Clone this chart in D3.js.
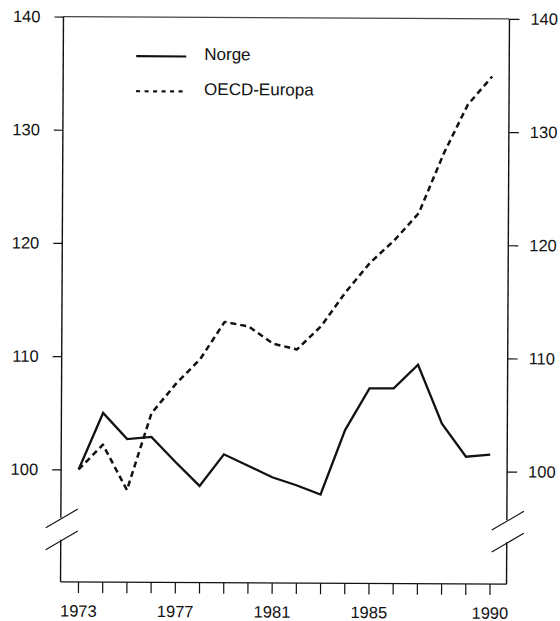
<!DOCTYPE html>
<html><head><meta charset="utf-8">
<script src="https://cdn.jsdelivr.net/npm/d3@7"></script>
<style>
html,body{margin:0;padding:0;background:#fff;}
svg text{font-family:"Liberation Sans",Arial,Helvetica,sans-serif;fill:#111;}
</style></head>
<body>
<svg id="c" width="560" height="621"></svg>
<script>
const years = [1973,1974,1975,1976,1977,1978,1979,1980,1981,1982,1983,1984,1985,1986,1987,1988,1989,1990];
const norge = [100,105.0,102.7,102.9,100.7,98.6,101.4,100.4,99.4,98.7,97.9,103.6,107.3,107.3,109.4,104.2,101.3,101.5];
const oecd  = [100,102.2,98.2,105.0,107.6,109.8,113.1,112.7,111.2,110.7,112.8,115.8,118.4,120.4,122.8,128.0,132.4,134.9];
const yTicks = [100,110,120,130,140];
const xLabels = [1973,1977,1981,1985,1990];
const seriesNames = ["Norge","OECD-Europa"];

const svg = d3.select("#c");
const g = svg.append("g").attr("transform","rotate(0.3,285,300)");

const L = 62, R = 508, T = 17.7, B = 583;
const x = d3.scaleLinear().domain([1973,1990]).range([79.5,491]);
const y = d3.scaleLinear().domain([100,140]).range([470.5,17.7]);

const ink = "#111";
g.append("line").attr("x1",L).attr("x2",R).attr("y1",T).attr("y2",T)
 .attr("stroke","#444").attr("stroke-width",1.2);

const brkTop = 519, brkBot = 541;
[L,R].forEach(ax=>{
  g.append("line").attr("x1",ax).attr("x2",ax).attr("y1",T).attr("y2",brkTop).attr("stroke",ink).attr("stroke-width",1.4);
  g.append("line").attr("x1",ax).attr("x2",ax).attr("y1",brkBot).attr("y2",B).attr("stroke",ink).attr("stroke-width",1.4);
  [brkTop+1, brkBot+1].forEach(cy=>{
    g.append("line").attr("x1",ax-15).attr("y1",cy+9).attr("x2",ax+17).attr("y2",cy-10)
     .attr("stroke",ink).attr("stroke-width",1.1);
  });
});

const leftAxis = d3.axisLeft(y).tickValues(yTicks).tickSize(9).tickPadding(14).tickFormat(d3.format("d"));
const la = g.append("g").attr("transform",`translate(${L},0)`).call(leftAxis);
la.select(".domain").remove();
const rightAxis = d3.axisRight(y).tickValues(yTicks).tickSize(10).tickPadding(11).tickFormat(d3.format("d"));
const ra = g.append("g").attr("transform",`translate(${R},0)`).call(rightAxis);
ra.select(".domain").remove();
[la,ra].forEach(a=>{
  a.selectAll(".tick line").attr("stroke",ink).attr("stroke-width",1.2);
  a.selectAll(".tick text").attr("font-size",16.5).attr("fill",ink)
   .attr("font-family","'Liberation Sans',Arial,sans-serif");
});

g.append("line").attr("x1",L).attr("x2",R).attr("y1",B).attr("y2",B).attr("stroke",ink).attr("stroke-width",1.4);
const bottomAxis = d3.axisBottom(x).tickValues(years).tickSize(11).tickPadding(12)
  .tickFormat(d=> xLabels.includes(d) ? String(d) : "");
const ba = g.append("g").attr("transform",`translate(0,${B})`).call(bottomAxis);
ba.select(".domain").remove();
ba.selectAll(".tick line").attr("stroke",ink).attr("stroke-width",1.2);
ba.selectAll(".tick text").attr("font-size",16.5).attr("fill",ink)
  .attr("font-family","'Liberation Sans',Arial,sans-serif");

const lineN = d3.line().x((d,i)=>x(years[i])).y(d=>y(d));
const lineO = d3.line().x((d,i)=>x(years[i])).y(d=>y(d));
g.append("path").datum(norge).attr("d",lineN).attr("fill","none").attr("stroke",ink)
 .attr("stroke-width",2.3).attr("stroke-linejoin","miter");
g.append("path").datum(oecd).attr("d",lineO).attr("fill","none").attr("stroke",ink)
 .attr("stroke-width",2.5).attr("stroke-dasharray","6,4").attr("stroke-linejoin","round");

const leg = g.append("g");
const legY = [57, 92];
seriesNames.forEach((n,i)=>{
  leg.append("line").attr("x1",135).attr("x2",185).attr("y1",legY[i]).attr("y2",legY[i])
    .attr("stroke",ink).attr("stroke-width",2.2)
    .attr("stroke-dasharray", i===1 ? "4,4.5" : null);
  leg.append("text").attr("x",203).attr("y",legY[i]).attr("dy","0.2em")
    .attr("font-size",17).text(n);
});
</script>
</body></html>
